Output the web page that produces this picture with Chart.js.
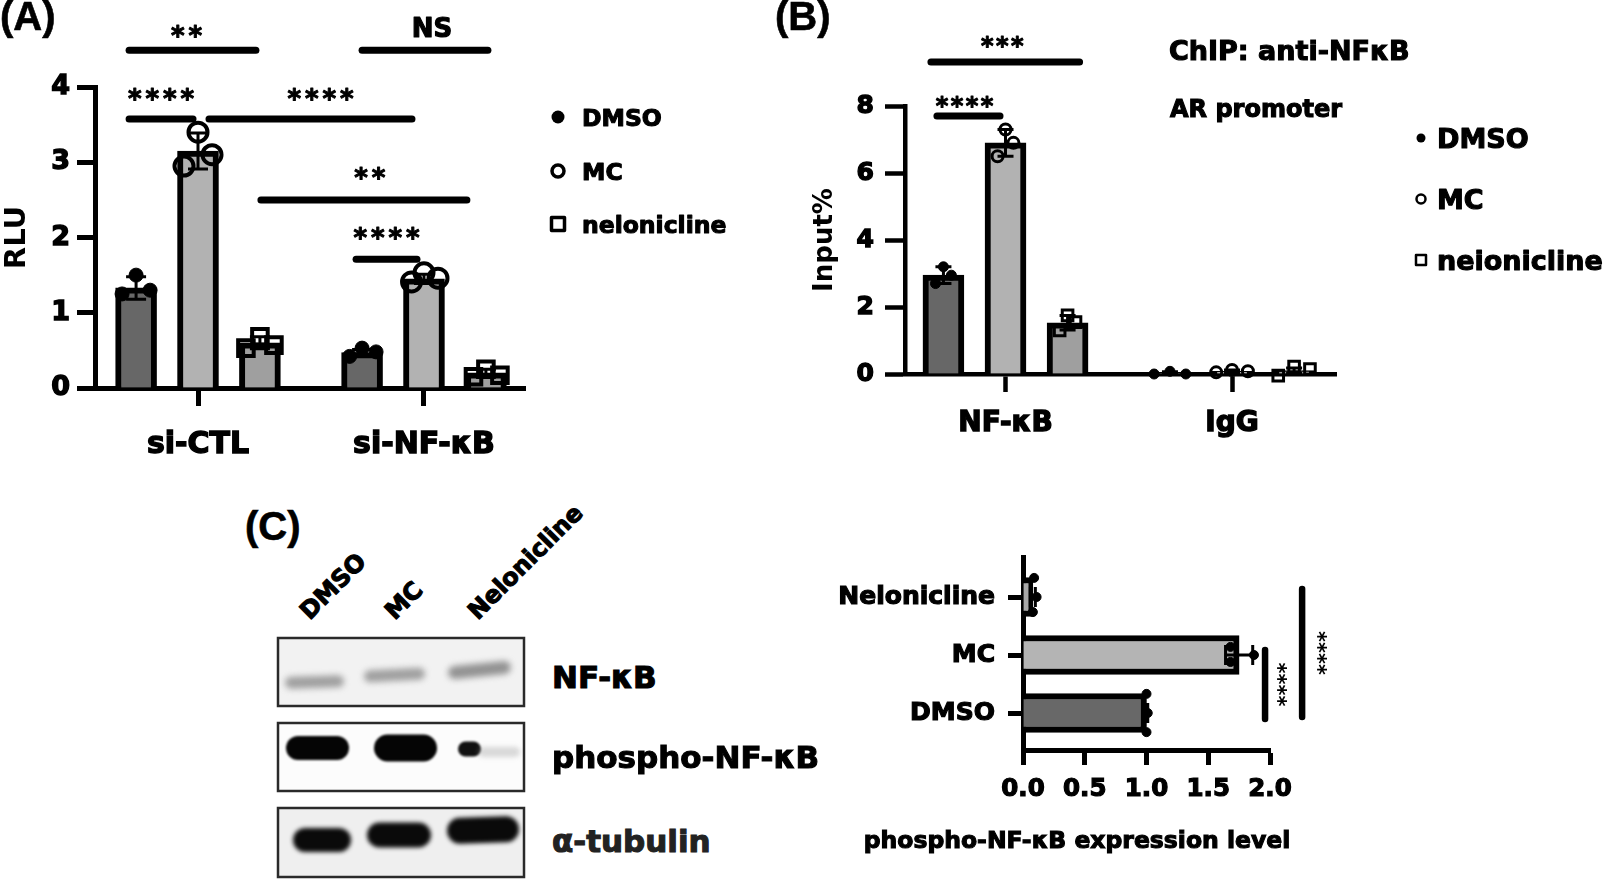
<!DOCTYPE html>
<html>
<head>
<meta charset="utf-8">
<script src="https://cdn.jsdelivr.net/npm/chart.js@4.4.1/dist/chart.umd.min.js"></script>
<style>
  html, body { margin: 0; padding: 0; background: #fff; }
  body { width: 1606px; height: 880px; position: relative; overflow: hidden; }
  canvas { position: absolute; }
  .t { position: absolute; white-space: nowrap; line-height: 1; color: #000;
       font-family: "DejaVu Sans", Verdana, sans-serif; font-weight: bold;
       -webkit-text-stroke: 1.1px currentColor; }
  .pl { font-family: "Liberation Sans", Arial, sans-serif; font-size: 40px; -webkit-text-stroke: 0.6px #000; }
  .lane { font-size: 24px; transform-origin: 0 0; transform: rotate(-45deg) translateY(-20.3px); }
  .row { font-size: 31px; }
</style>
</head>
<body>
<canvas id="cA" width="760" height="470" style="left:0;top:0"></canvas>
<canvas id="cB" width="826" height="470" style="left:780px;top:0"></canvas>
<canvas id="cC" width="600" height="360" style="left:800px;top:520px"></canvas>
<canvas id="blot" width="270" height="250" style="left:270px;top:630px"></canvas>

<div class="t pl" style="left:0;top:-4px">(A)</div>
<div class="t pl" style="left:775px;top:-4px">(B)</div>
<div class="t pl" style="left:245px;top:506px">(C)</div>

<div class="t" style="left:1169px;top:37px;font-size:27px">ChIP: anti-NFκB</div>
<div class="t" style="left:1170px;top:97px;font-size:24px">AR promoter</div>

<div class="t lane" style="left:310px;top:621px">DMSO</div>
<div class="t lane" style="left:395px;top:621px">MC</div>
<div class="t lane" style="left:478px;top:621px">Nelonicline</div>
<div class="t row" style="left:552px;top:662px">NF-κB</div>
<div class="t row" style="left:552px;top:742px">phospho-NF-κB</div>
<div class="t row" style="left:552px;top:826px;color:#222">α-tubulin</div>

<div class="t" style="left:1077px;top:829px;font-size:23.5px;transform:translateX(-50%)">phospho-NF-κB expression level</div>

<script>
// ---------- panel A: luciferase (RLU) ----------
const GROUPS_A = ['si-CTL', 'si-NF-κB'];
const SERIES_A = ['DMSO', 'MC', 'nelonicline'];
const DMSO_A = [1.33, 0.47];
const MC_A = [3.15, 1.45];
const NEL_A = [0.60, 0.20];
const DMSO_A_ERR = [0.15, 0.04];
const MC_A_ERR = [0.24, 0.06];
const NEL_A_ERR = [0.08, 0.05];
const DMSO_A_PTS = [[1.25, 1.50, 1.30], [0.42, 0.53, 0.48]];
const MC_A_PTS = [[2.95, 3.40, 3.10], [1.41, 1.53, 1.46]];
const NEL_A_PTS = [[0.53, 0.68, 0.57], [0.15, 0.25, 0.17]];
const TICKS_A = [0, 1, 2, 3, 4];
// comparisons: label, [group, series] -> [group, series]
const SIG_A = [
  ['**', [0, 0], [0, 2]],
  ['NS', [1, 0], [1, 2]],
  ['****', [0, 0], [0, 1]],
  ['****', [0, 1], [1, 1]],
  ['**', [0, 2], [1, 2]],
  ['****', [1, 0], [1, 1]],
];

// ---------- panel B: ChIP (Input%) ----------
const GROUPS_B = ['NF-κB', 'IgG'];
const SERIES_B = ['DMSO', 'MC', 'neionicline'];
const DMSO_B = [2.95, 0.03];
const MC_B = [6.90, 0.08];
const NEL_B = [1.53, 0.10];
const DMSO_B_ERR = [0.25, 0.04];
const MC_B_ERR = [0.40, 0.04];
const NEL_B_ERR = [0.22, 0.08];
const DMSO_B_PTS = [[2.70, 3.20, 2.95], [0.00, 0.08, 0.00]];
const MC_B_PTS = [[6.50, 7.30, 6.90], [0.05, 0.12, 0.08]];
const NEL_B_PTS = [[1.30, 1.75, 1.55], [-0.05, 0.22, 0.15]];
const TICKS_B = [0, 2, 4, 6, 8];
const SIG_B = [
  ['***', [0, 0], [0, 2]],
  ['****', [0, 0], [0, 1]],
];

// ---------- panel C: phospho-NF-κB quantification ----------
const CATS_C = ['DMSO', 'MC', 'Nelonicline'];
const VALS_C = [1.00, 1.75, 0.08];
const ERR_C = [0.01, 0.11, 0.02];
const PTS_C = [[1.00, 1.01, 1.00], [1.68, 1.68, 1.87], [0.09, 0.11, 0.08]];
const TICKS_C = [0, 0.5, 1, 1.5, 2];
const SIG_C = [
  ['****', 1, 0],
  ['****', 2, 0],
];

// ---------- layout / style ----------
const FONT = '"DejaVu Sans", Verdana, sans-serif';
Chart.defaults.font.family = FONT;
Chart.defaults.font.weight = 'bold';
Chart.defaults.color = '#000';

const OFF = [-0.274, 0, 0.274];          // bar position inside a group
const JIT_A = [[-0.062, 0, 0.062], [-0.055, 0, 0.062]];
const JIT_B = [[-0.035, 0, 0.035], [-0.07, 0, 0.07]];
const JIT_C = [[0.33, 0, -0.33], [0.14, -0.12, 0], [0.33, 0, -0.26]];
const FILL = ['#676767', '#b2b2b2', '#9f9f9f'];

const SIG_A_POS = [
  { level: 4.49, dx: [-7, -4], dy: 20, tx: -6 },
  { level: 4.49, dx: [0, 2], dy: 22.5, tx: 7 },
  { level: 3.575, dx: [-7, -5], dy: 26, tx: 0 },
  { level: 3.575, dx: [11, -12], dy: 26, tx: 10 },
  { level: 2.50, dx: [1, -19], dy: 27, tx: 6 },
  { level: 1.71, dx: [-6, -7], dy: 27, tx: 0 },
];
const SIG_B_POS = [
  { level: 9.31, dx: [-12.5, 12], dy: 22, tx: -3 },
  { level: 7.70, dx: [-6.5, -5.5], dy: 15, tx: -4 },
];
const SIG_C_POS = [
  { level: 1.96, dy: [-5, 6], tx: 18 },
  { level: 2.26, dy: [-8, 4], tx: 21 },
];

function inkText(ctx, text, x, y, sw) {
  ctx.fillText(text, x, y);
  if (sw) {
    ctx.lineWidth = sw;
    ctx.lineJoin = 'round';
    ctx.strokeStyle = '#000';
    ctx.strokeText(text, x, y);
  }
}

function drawMarks(ctx, text, cx, cy, size, pitch, sw) {
  ctx.font = `bold ${size}px ${FONT}`;
  ctx.fillStyle = '#000';
  ctx.textAlign = 'center';
  ctx.textBaseline = 'alphabetic';
  if (/^\*+$/.test(text)) {
    const n = text.length;
    for (let k = 0; k < n; k++) {
      inkText(ctx, '*', cx + (k - (n - 1) / 2) * pitch, cy + 0.56 * size, sw);
    }
  } else {
    inkText(ctx, text, cx, cy + 0.365 * size, 1.2);
  }
}

function drawMarker(ctx, kind, x, y, r, lw) {
  ctx.lineWidth = lw;
  ctx.strokeStyle = '#000';
  ctx.fillStyle = '#000';
  ctx.beginPath();
  if (kind === 'rect') {
    ctx.rect(x - r, y - r, 2 * r, 2 * r);
    ctx.stroke();
  } else {
    ctx.arc(x, y, r, 0, Math.PI * 2);
    if (kind === 'dot') ctx.fill(); else ctx.stroke();
  }
}

// error bars, significance bars and legend
function makeSig(cfg) {
  return {
    id: 'sig',
    afterDatasetDraw(chart, args) {
      const ds = chart.data.datasets[args.index];
      if (!ds.errors) return;
      const horiz = chart.options.indexAxis === 'y';
      const vs = horiz ? chart.scales.x : chart.scales.y;
      const ctx = chart.ctx;
      ctx.save();
      ctx.strokeStyle = '#000';
      ctx.lineWidth = cfg.errWidth;
      args.meta.data.forEach((el, i) => {
        const e = ds.errors[i];
        if (!e) return;
        const v = horiz ? ds.data[i].x : ds.data[i].y;
        const a = vs.getPixelForValue(v - e);
        const b = vs.getPixelForValue(v + e);
        const c = horiz ? el.y : el.x;
        const w = cfg.cap;
        ctx.beginPath();
        if (horiz) {
          ctx.moveTo(a, c); ctx.lineTo(b, c);
          ctx.moveTo(b, c - w); ctx.lineTo(b, c + w);
          ctx.moveTo(a, c - w); ctx.lineTo(a, c + w);
        } else {
          ctx.moveTo(c, a); ctx.lineTo(c, b);
          ctx.moveTo(c - w, b); ctx.lineTo(c + w, b);
          ctx.moveTo(c - w, a); ctx.lineTo(c + w, a);
        }
        ctx.stroke();
      });
      ctx.restore();
    },
    afterDraw(chart) {
      const ctx = chart.ctx;
      ctx.save();
      (cfg.sig || []).forEach((s, i) => {
        const p = cfg.pos[i];
        ctx.strokeStyle = '#000';
        ctx.lineCap = 'round';
        ctx.lineWidth = cfg.lineWidth;
        if (cfg.horizontal) {
          const bars = chart.getDatasetMeta(0).data;
          const x = chart.scales.x.getPixelForValue(p.level);
          const y1 = bars[s[1]].y + p.dy[0];
          const y2 = bars[s[2]].y + p.dy[1];
          ctx.beginPath(); ctx.moveTo(x, y1); ctx.lineTo(x, y2); ctx.stroke();
          ctx.save();
          ctx.translate(x + p.tx, (y1 + y2) / 2);
          ctx.rotate(Math.PI / 2);
          drawMarks(ctx, s[0], 0, 0, cfg.size, cfg.pitch, cfg.starStroke);
          ctx.restore();
        } else {
          const x1 = chart.getDatasetMeta(s[1][1]).data[s[1][0]].x + p.dx[0];
          const x2 = chart.getDatasetMeta(s[2][1]).data[s[2][0]].x + p.dx[1];
          const y = chart.scales.y.getPixelForValue(p.level);
          ctx.beginPath(); ctx.moveTo(x1, y); ctx.lineTo(x2, y); ctx.stroke();
          drawMarks(ctx, s[0], (x1 + x2) / 2 + p.tx, y - p.dy, cfg.size, cfg.pitch, cfg.starStroke);
        }
      });
      const lg = cfg.legend;
      if (lg) {
        lg.labels.forEach((t, i) => {
          drawMarker(ctx, lg.marks[i], lg.x, lg.ys[i], lg.r[i], lg.lw);
          ctx.font = `bold ${lg.size}px ${FONT}`;
          ctx.fillStyle = '#000';
          ctx.textAlign = 'left';
          ctx.textBaseline = 'alphabetic';
          inkText(ctx, t, lg.tx, lg.ys[i] + 0.365 * lg.size, 1.1);
        });
      }
      ctx.restore();
    }
  };
}

function groupBars(series, means, errs, bw) {
  return means.map((vals, s) => ({
    type: 'bar', order: 2, label: series[s],
    data: vals.map((v, g) => ({ x: g + 1 + OFF[s], y: v })),
    errors: errs[s],
    backgroundColor: FILL[s], borderColor: '#000', borderWidth: bw,
    grouped: false, barThickness: 41, borderSkipped: 'start'
  }));
}

function groupPoints(reps, jit, marks) {
  return reps.map((r, s) => Object.assign({
    type: 'scatter', order: 1, clip: false,
    data: r.flatMap((vals, g) => vals.map((v, k) => ({ x: g + 1 + OFF[s] + jit[g][k], y: v })))
  }, marks[s]));
}

function vScales(o) {
  return {
    x: {
      type: 'linear', min: o.xmin, max: o.xmax, offset: false,
      afterFit: s => { s.height = o.xh; },
      afterBuildTicks: s => { s.ticks = o.groups.map((_, i) => ({ value: i + 1 })); },
      ticks: { autoSkip: false, maxRotation: 0, padding: o.xpad,
               font: { size: o.xfont, weight: 'bold' },
               textStrokeColor: '#000', textStrokeWidth: 1.4,
               callback: v => o.groups[Math.round(v) - 1] },
      grid: { offset: false, drawOnChartArea: false, tickLength: 18, tickWidth: o.lw, color: '#000' },
      border: { width: o.lw, color: '#000' }
    },
    y: {
      type: 'linear', min: o.ticks[0], max: o.ticks[o.ticks.length - 1],
      afterFit: s => { s.width = o.yw; },
      afterBuildTicks: s => { s.ticks = o.ticks.map(v => ({ value: v })); },
      ticks: { padding: o.ypad, font: { size: o.yfont, weight: 'bold' },
               textStrokeColor: '#000', textStrokeWidth: 1.4 },
      grid: { drawOnChartArea: false, tickLength: o.ytl, tickWidth: o.lw, color: '#000' },
      border: { width: o.lw, color: '#000' },
      title: { display: true, text: o.title, font: { size: o.tfont, weight: 'bold' },
               padding: { top: o.tpad, bottom: 0 } }
    }
  };
}

const MARK_A = [
  { pointStyle: 'circle', pointRadius: 7, pointBackgroundColor: '#000', pointBorderColor: '#000', pointBorderWidth: 1 },
  { pointStyle: 'circle', pointRadius: 9.5, pointBackgroundColor: 'rgba(0,0,0,0)', pointBorderColor: '#000', pointBorderWidth: 4 },
  { pointStyle: 'rect', pointRadius: 11, pointBackgroundColor: 'rgba(0,0,0,0)', pointBorderColor: '#000', pointBorderWidth: 4 },
];
const MARK_B = [
  { pointStyle: 'circle', pointRadius: 5, pointBackgroundColor: '#000', pointBorderColor: '#000', pointBorderWidth: 1 },
  { pointStyle: 'circle', pointRadius: 5.5, pointBackgroundColor: 'rgba(0,0,0,0)', pointBorderColor: '#000', pointBorderWidth: 3 },
  { pointStyle: 'rect', pointRadius: 7.5, pointBackgroundColor: 'rgba(0,0,0,0)', pointBorderColor: '#000', pointBorderWidth: 3 },
];

// ---- chart A ----
new Chart(document.getElementById('cA'), {
  type: 'bar',
  data: {
    datasets: [
      ...groupBars(SERIES_A, [DMSO_A, MC_A, NEL_A], [DMSO_A_ERR, MC_A_ERR, NEL_A_ERR], 6),
      ...groupPoints([DMSO_A_PTS, MC_A_PTS, NEL_A_PTS], JIT_A, MARK_A)
    ]
  },
  options: {
    responsive: false, animation: false,
    layout: { padding: { left: 0, top: 87, right: 235, bottom: 0 } },
    plugins: { legend: { display: false }, tooltip: { enabled: false } },
    scales: vScales({
      groups: GROUPS_A, xmin: 0.5442, xmax: 2.447, xh: 82, xpad: 21, xfont: 30,
      ticks: TICKS_A, yw: 95, ypad: 7, ytl: 18, yfont: 27, lw: 5,
      title: 'RLU', tfont: 29, tpad: 0
    })
  },
  plugins: [makeSig({
    errWidth: 3, cap: 10, lineWidth: 7, size: 26, pitch: 17.5, starStroke: 1,
    sig: SIG_A, pos: SIG_A_POS,
    legend: { labels: SERIES_A, marks: ['dot', 'ring', 'rect'], x: 558, tx: 582,
              ys: [117, 171, 224], r: [6.5, 6, 6.5], lw: 3.5, size: 23.5 }
  })]
});

// ---- chart B ----
new Chart(document.getElementById('cB'), {
  type: 'bar',
  data: {
    datasets: [
      ...groupBars(SERIES_B, [DMSO_B, MC_B, NEL_B], [DMSO_B_ERR, MC_B_ERR, NEL_B_ERR], 6),
      ...groupPoints([DMSO_B_PTS, MC_B_PTS, NEL_B_PTS], JIT_B, MARK_B)
    ]
  },
  options: {
    responsive: false, animation: false,
    layout: { padding: { left: 0, top: 106, right: 270, bottom: 0 } },
    plugins: { legend: { display: false }, tooltip: { enabled: false } },
    scales: vScales({
      groups: GROUPS_B, xmin: 0.5563, xmax: 2.459, xh: 96, xpad: 15, xfont: 28,
      ticks: TICKS_B, yw: 125, ypad: 11, ytl: 20, yfont: 25, lw: 4.5,
      title: 'Input%', tfont: 26, tpad: 30
    })
  },
  plugins: [makeSig({
    errWidth: 3, cap: 8, lineWidth: 7, size: 24, pitch: 15, starStroke: 1,
    sig: SIG_B, pos: SIG_B_POS,
    legend: { labels: SERIES_B, marks: ['dot', 'ring', 'rect'], x: 641, tx: 657,
              ys: [138, 199, 260], r: [4.5, 4.5, 5], lw: 2.5, size: 27 }
  })]
});

// ---- chart C (horizontal) ----
new Chart(document.getElementById('cC'), {
  type: 'bar',
  data: {
    datasets: [
      {
        type: 'bar', order: 2,
        data: VALS_C.map((v, i) => ({ x: v, y: i + 1 })),
        errors: ERR_C,
        backgroundColor: ['#686868', '#b4b4b4', '#a8a8a8'],
        borderColor: '#000', borderWidth: 6,
        grouped: false, barThickness: 39, borderSkipped: 'start'
      },
      {
        type: 'scatter', order: 1, clip: false,
        data: PTS_C.flatMap((vals, i) => vals.map((v, k) => ({ x: v, y: i + 1 + JIT_C[i][k] }))),
        pointStyle: 'circle', pointRadius: 4.5, pointBackgroundColor: '#000', pointBorderColor: '#000'
      }
    ]
  },
  options: {
    indexAxis: 'y',
    responsive: false, animation: false,
    layout: { padding: { left: 0, top: 37, right: 130, bottom: 0 } },
    plugins: { legend: { display: false }, tooltip: { enabled: false } },
    scales: {
      x: {
        type: 'linear', min: 0, max: 2,
        afterFit: s => { s.height = 130; },
        afterBuildTicks: s => { s.ticks = TICKS_C.map(v => ({ value: v })); },
        ticks: { autoSkip: false, maxRotation: 0, padding: 10, font: { size: 24.5, weight: 'bold' },
                 textStrokeColor: '#000', textStrokeWidth: 1.2,
                 callback: v => v.toFixed(1) },
        grid: { drawOnChartArea: false, tickLength: 15, tickWidth: 5, color: '#000' },
        border: { width: 5, color: '#000' }
      },
      y: {
        type: 'linear', min: 0.362, max: 3.69, offset: false,
        afterFit: s => { s.width = 223; },
        afterBuildTicks: s => { s.ticks = CATS_C.map((_, i) => ({ value: i + 1 })); },
        ticks: { autoSkip: false, padding: 13, font: { size: 25, weight: 'bold' },
                 textStrokeColor: '#000', textStrokeWidth: 1.2,
                 callback: v => CATS_C[Math.round(v) - 1] },
        grid: { offset: false, drawOnChartArea: false, tickLength: 15, tickWidth: 5, color: '#000' },
        border: { width: 5, color: '#000' }
      }
    }
  },
  plugins: [makeSig({
    horizontal: true, errWidth: 3, cap: 10, lineWidth: 6.5, size: 21, pitch: 11, starStroke: 0,
    sig: SIG_C, pos: SIG_C_POS
  })]
});

// ---- western blot image (panel C, left) ----
function drawBlot() {
  const ctx = document.getElementById('blot').getContext('2d');
  const X = 270, Y = 630, L = 278, R = 524;
  const rows = [[638, 706, '#f2f2f2'], [723, 791, '#fcfcfc'], [808, 877, '#efefef']];
  rows.forEach(([t, b, bg]) => { ctx.fillStyle = bg; ctx.fillRect(L - X, t - Y, R - L, b - t); });

  function pill(x1, x2, yc, h, col, blur, rot) {
    const w = x2 - x1, r = h / 2;
    ctx.save();
    ctx.filter = `blur(${blur}px)`;
    ctx.fillStyle = col;
    ctx.translate((x1 + x2) / 2 - X, yc - Y);
    ctx.rotate(rot || 0);
    ctx.beginPath();
    ctx.moveTo(-w / 2 + r, -r);
    ctx.lineTo(w / 2 - r, -r);
    ctx.arc(w / 2 - r, 0, r, -Math.PI / 2, Math.PI / 2);
    ctx.lineTo(-w / 2 + r, r);
    ctx.arc(-w / 2 + r, 0, r, Math.PI / 2, Math.PI * 1.5);
    ctx.fill();
    ctx.restore();
  }
  // NF-κB
  pill(285, 344, 682, 12, 'rgba(115,115,115,0.65)', 3, -0.03);
  pill(364, 425, 675, 12, 'rgba(115,115,115,0.65)', 3, -0.05);
  pill(448, 511, 670, 13, 'rgba(105,105,105,0.7)', 3, -0.1);
  // phospho-NF-κB
  pill(286, 349, 748, 24, '#050505', 1.2);
  pill(374, 437, 748, 27, '#050505', 1.2);
  pill(458, 481, 749, 15, '#111', 1.2);
  pill(478, 520, 752, 10, 'rgba(150,150,150,0.35)', 2.5);
  // α-tubulin
  pill(293, 351, 840, 24, '#0a0a0a', 2);
  pill(367, 431, 835, 25, '#0a0a0a', 2);
  pill(447, 519, 830, 26, '#0a0a0a', 2, -0.03);

  ctx.filter = 'none';
  ctx.strokeStyle = '#2a2a2a';
  ctx.lineWidth = 2.5;
  rows.forEach(([t, b]) => ctx.strokeRect(L - X, t - Y, R - L, b - t));
}
drawBlot();
</script>
</body>
</html>
